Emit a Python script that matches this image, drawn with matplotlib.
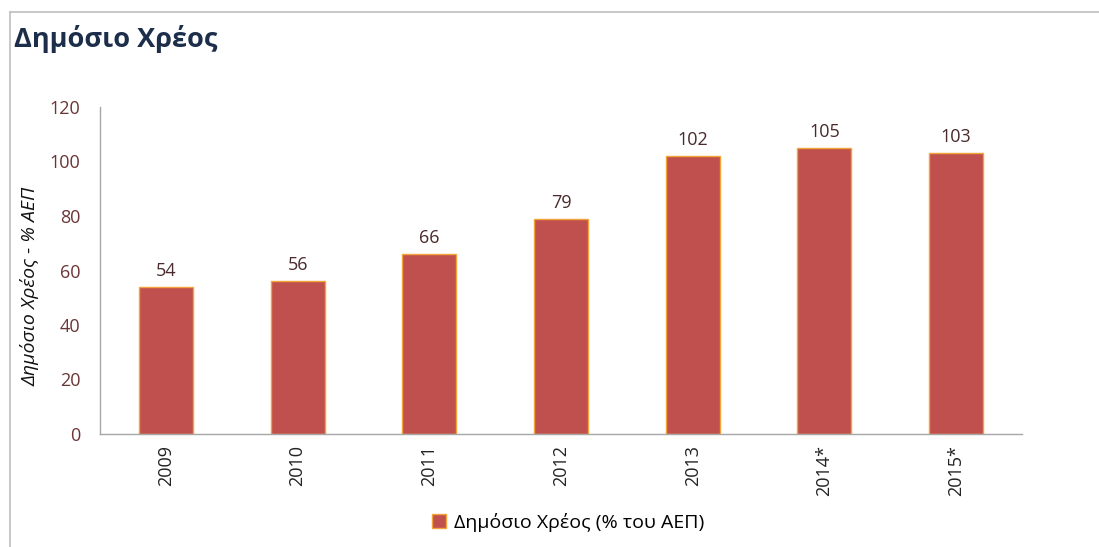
import matplotlib
matplotlib.use("Agg")
import matplotlib.pyplot as plt
from matplotlib.lines import Line2D
from matplotlib.patches import Patch

plt.rcParams['font.family'] = ['Open Sans', 'DejaVu Sans']

years = ["2009", "2010", "2011", "2012", "2013", "2014*", "2015*"]
debt = [54, 56, 66, 79, 102, 105, 103]
yticks = [0, 20, 40, 60, 80, 100, 120]

title = "Δημόσιο Χρέος"
ylabel = "Δημόσιο Χρέος - % ΑΕΠ"
legend_label = "Δημόσιο Χρέος (% του ΑΕΠ)"

bar_color = "#c0504d"
edge_color = "#f2a33a"
tick_color = "#6b3535"

W, H = 1099, 547
fig = plt.figure(figsize=(W / 100, H / 100), dpi=100)
ax = fig.add_axes([100 / W, 1 - 434 / H, 922 / W, 327 / H])

x = range(len(years))
bars = ax.bar(x, debt, width=0.41, color=bar_color, edgecolor=edge_color,
              linewidth=1.0, label=legend_label)
for xi, v in zip(x, debt):
    ax.annotate(f"{v}", (xi, v), xytext=(0, 5), textcoords="offset points",
                ha="center", va="bottom", fontsize=13, color="#4a2a2a")

ax.set_xlim(-0.5, len(years) - 0.5)
ax.set_ylim(0, 120)
ax.set_yticks(yticks)
ax.set_xticks(list(x))
ax.set_xticklabels(years, rotation=90, fontsize=13, color="#222222")
ax.tick_params(axis='y', labelsize=13, labelcolor=tick_color, length=0, pad=14)
ax.tick_params(axis='x', length=0, pad=8)
for s in ["top", "right"]:
    ax.spines[s].set_visible(False)
for s in ["left", "bottom"]:
    ax.spines[s].set_color("#a6a6a6")
    ax.spines[s].set_linewidth(1.0)
ax.set_ylabel(ylabel, fontsize=14, style="italic", color="#111111",
              va="center", ha="center")
ax.yaxis.set_label_coords(-0.076, 0.45)

fig.text(14 / W, 1 - 39 / H, title, fontsize=19.5, fontweight="bold",
         color="#1c2e4a", va="center", ha="left")

# outer frame lines
fig.add_artist(Line2D([10 / W, 10 / W], [0, 1 - 12 / H], transform=fig.transFigure,
                      color="#bfbfbf", linewidth=1.2))
fig.add_artist(Line2D([10 / W, 1], [1 - 12 / H, 1 - 12 / H], transform=fig.transFigure,
                      color="#bfbfbf", linewidth=1.2))

handle = Patch(facecolor=bar_color, edgecolor=edge_color)
fig.legend([handle], [legend_label], loc="center", bbox_to_anchor=(568 / W, 1 - 522 / H),
           frameon=False, fontsize=14, handlelength=0.7, handleheight=0.7,
           handletextpad=0.4)

fig.savefig("out.png", dpi=100)
